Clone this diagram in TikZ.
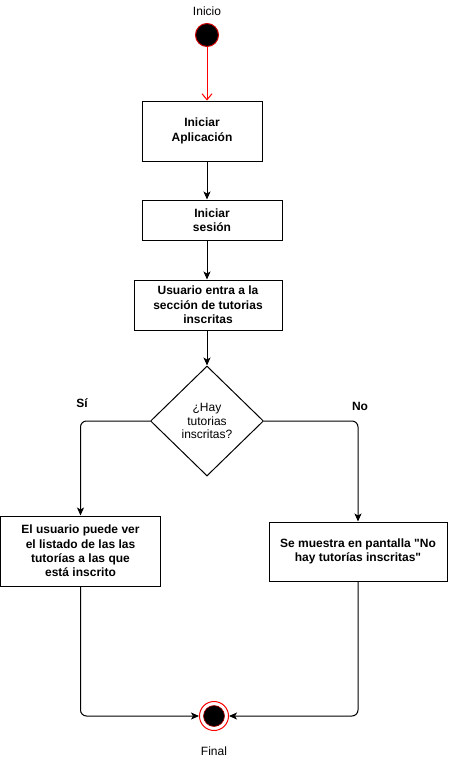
\documentclass[tikz,border=0pt]{standalone}
\usepackage{fontspec}
\setmainfont{Liberation Sans}[Ligatures=TeXOff]
\usetikzlibrary{shapes.geometric,arrows.meta,calc}
\tikzset{
  stepbox/.style={draw=black,line width=1pt,fill=white,inner sep=0pt,align=center,
    font=\fontsize{12}{14.4}\selectfont\bfseries},
  decision/.style={draw=black,line width=1pt,fill=white,diamond,inner sep=0pt,align=center,
    font=\fontsize{12}{13.5}\selectfont},
  lbl/.style={font=\fontsize{12}{14}\selectfont},
  blbl/.style={font=\fontsize{12}{14}\selectfont\bfseries},
  arr/.style={draw=black,line width=1pt,-{Stealth[length=8pt,width=7pt,inset=2pt]}},
  redarr/.style={draw=red,line width=1pt,-{Straight Barb[length=6pt,width=10pt]}},
}
\begin{document}
\begin{tikzpicture}[x=1pt,y=-1pt]
\path[fill=white] (0,0) rectangle (450,761);
\useasboundingbox (0,0) rectangle (450,761);

\node[lbl] (tini) at (207,11) {Inicio};
\node[circle,fill=black,draw=red!80!black,line width=1pt,minimum size=23pt,inner sep=0pt] (s) at (207,35) {};

\node[stepbox,minimum width=120pt,minimum height=60pt] (b1) at (202,131) {Iniciar\\Aplicación};
\node[stepbox,minimum width=140pt,minimum height=40pt] (b2) at (212,220) {Iniciar\\sesión};
\node[stepbox,minimum width=148pt,minimum height=50pt] (b3) at (208,305) {Usuario entra a la\\sección de tutorias\\inscritas};
\node[decision,minimum width=113pt,minimum height=110pt] (d) at (207,421) {¿Hay\\tutorias\\inscritas?};
\node[stepbox,minimum width=160pt,minimum height=70pt] (b4) at (80.5,551) {El usuario puede ver\\el listado de las las\\tutorías a las que\\está inscrito};
\node[stepbox,minimum width=178pt,minimum height=59pt] (b5) at (358,551.5) {Se muestra en pantalla "No\\hay tutorías inscritas"};

\node[circle,draw=red,line width=1pt,fill=white,minimum size=29pt,inner sep=0pt] (f) at (214,716) {};
\node[circle,fill=black,draw=red!70!black,line width=0.6pt,minimum size=21pt,inner sep=0pt] (fi) at (214,716) {};
\node[lbl] (tfin) at (214,751) {Final};

\node[blbl] (si) at (82,403) {Sí};
\node[blbl] (no) at (360,406) {No};

\draw[redarr] (s.south) -- (s.south |- b1.north);
\draw[arr] (b1.south -| s.center) -- (b2.north -| s.center);
\draw[arr] (b2.south -| s.center) -- (b3.north -| s.center);
\draw[arr] (b3.south -| s.center) -- (d.north);
\draw[arr,rounded corners=6pt] (d.west) -| (b4.north);
\draw[arr,rounded corners=6pt] (d.east) -| (b5.north);
\draw[arr,rounded corners=6pt] (b4.south) |- (f.west);
\draw[arr,rounded corners=6pt] (b5.south) |- (f.east);
\end{tikzpicture}
\end{document}
